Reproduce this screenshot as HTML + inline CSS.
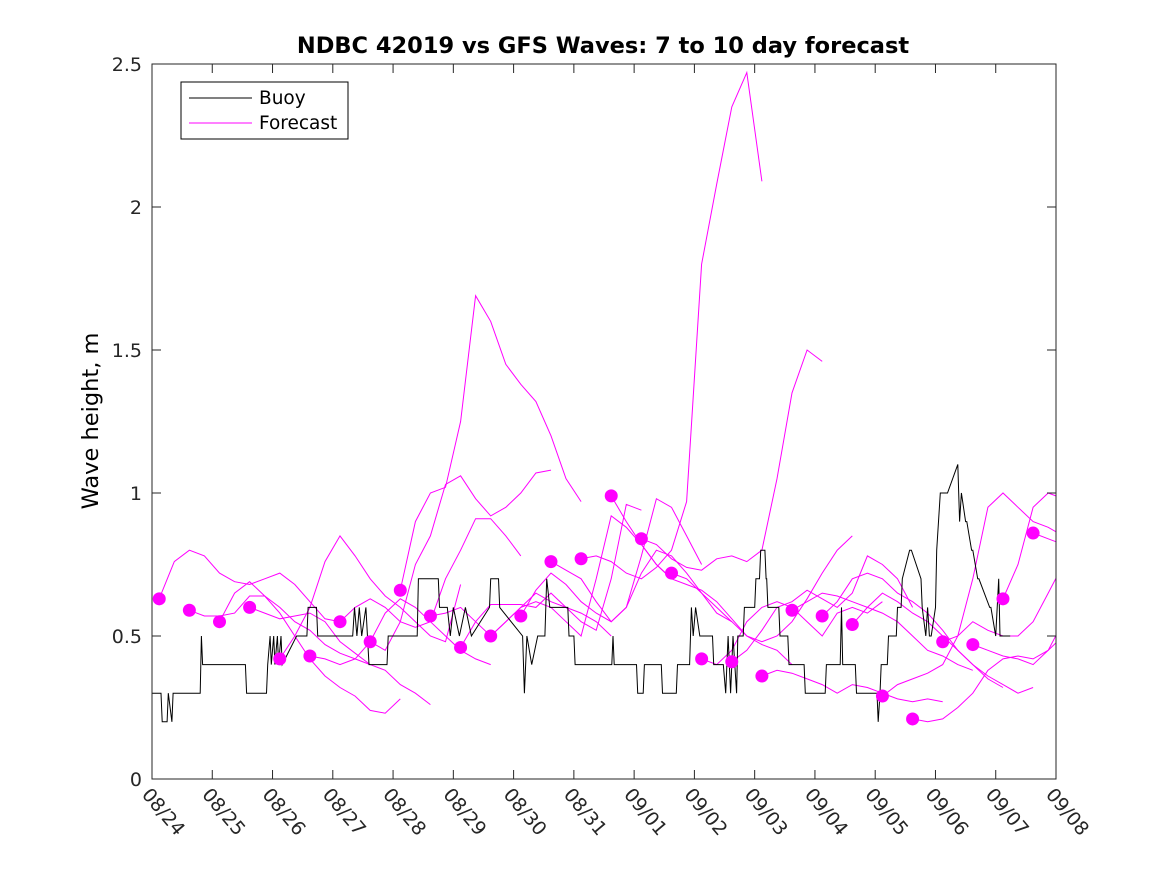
<!DOCTYPE html>
<html><head><meta charset="utf-8"><style>
body{margin:0;background:#fff;}
svg{display:block;font-family:"DejaVu Sans","Liberation Sans",sans-serif;}
</style></head><body>
<svg id="chart" width="1167" height="875" viewBox="0 0 1167 875" xmlns="http://www.w3.org/2000/svg">
<rect width="1167" height="875" fill="#fff"/>
<text x="603" y="53" text-anchor="middle" font-size="22.5" font-weight="bold">NDBC 42019 vs GFS Waves: 7 to 10 day forecast</text>
<text transform="translate(98,421) rotate(-90)" text-anchor="middle" font-size="22.5">Wave height, m</text>
<defs><clipPath id="plotclip"><rect x="152" y="64" width="904" height="715"/></clipPath></defs>
<g id="marks" clip-path="url(#plotclip)"></g>
<g id="axes"></g>
<g>
<rect x="181" y="82" width="167" height="57" fill="#fff" stroke="#000" stroke-width="1"/>
<line x1="189" y1="98" x2="252" y2="98" stroke="#000"/>
<text x="259" y="104" font-size="18.5">Buoy</text>
<line x1="189" y1="123" x2="252" y2="123" stroke="#f0f"/>
<text x="259" y="129" font-size="18.5">Forecast</text>
</g>
</svg>
<script>
const xTickLabels=["08/24","08/25","08/26","08/27","08/28","08/29","08/30","08/31","09/01","09/02","09/03","09/04","09/05","09/06","09/07","09/08"];
const yTicks=[0,0.5,1,1.5,2,2.5];
const yTickLabels=["0","0.5","1","1.5","2","2.5"];
const buoyDays=[0,0.15,0.17,0.25,0.27,0.33,0.35,0.42,0.44,0.8,0.82,0.84,1.55,1.57,1.6,1.62,1.9,1.92,1.96,1.98,2.02,2.04,2.08,2.1,2.14,2.16,2.4,2.57,2.59,2.73,2.75,3.33,3.36,3.4,3.44,3.48,3.55,3.6,3.9,3.92,4.4,4.42,4.75,4.77,4.9,4.95,5.0,5.1,5.2,5.3,5.6,5.62,5.75,5.77,6.15,6.18,6.22,6.3,6.4,6.52,6.55,6.6,6.62,6.9,6.92,7.0,7.02,7.63,7.65,7.67,8.04,8.06,8.15,8.17,8.45,8.47,8.7,8.72,8.92,8.95,8.98,9.02,9.09,9.11,9.3,9.32,9.48,9.52,9.56,9.6,9.64,9.7,9.72,9.81,9.83,10.0,10.02,10.08,10.1,10.17,10.19,10.2,10.22,10.4,10.42,10.55,10.57,10.82,10.84,11.17,11.19,11.42,11.44,11.46,11.67,11.69,12.03,12.05,12.08,12.1,12.2,12.22,12.35,12.37,12.43,12.45,12.57,12.6,12.76,12.78,12.84,12.87,12.9,12.93,13.0,13.02,13.08,13.2,13.37,13.4,13.43,13.5,13.52,13.6,13.62,13.7,13.72,13.9,13.92,14.0,14.05,14.07,14.24];
const buoyVals=[0.3,0.3,0.2,0.2,0.3,0.2,0.3,0.3,0.3,0.3,0.5,0.4,0.4,0.3,0.3,0.3,0.3,0.4,0.5,0.4,0.5,0.4,0.5,0.4,0.5,0.4,0.5,0.5,0.6,0.6,0.5,0.5,0.6,0.5,0.6,0.5,0.6,0.4,0.4,0.5,0.5,0.7,0.7,0.6,0.6,0.5,0.6,0.5,0.6,0.5,0.6,0.7,0.7,0.6,0.5,0.3,0.5,0.4,0.5,0.5,0.7,0.6,0.6,0.6,0.5,0.5,0.4,0.4,0.5,0.4,0.4,0.3,0.3,0.4,0.4,0.3,0.3,0.4,0.4,0.6,0.5,0.6,0.5,0.5,0.5,0.4,0.4,0.3,0.5,0.3,0.5,0.3,0.5,0.5,0.6,0.6,0.7,0.7,0.8,0.8,0.7,0.7,0.6,0.6,0.5,0.5,0.4,0.4,0.3,0.3,0.4,0.4,0.6,0.4,0.4,0.3,0.3,0.2,0.3,0.4,0.4,0.5,0.5,0.6,0.6,0.7,0.8,0.8,0.7,0.6,0.5,0.6,0.5,0.5,0.6,0.8,1.0,1.0,1.1,0.9,1.0,0.9,0.9,0.8,0.8,0.7,0.7,0.6,0.6,0.5,0.7,0.5,0.5];
const fcStartDays=[0.12,0.62,1.12,1.62,2.12,2.62,3.12,3.62,4.12,4.62,5.12,5.62,6.12,6.62,7.12,7.62,8.12,8.62,9.12,9.62,10.12,10.62,11.12,11.62,12.12,12.62,13.12,13.62,14.12,14.62];
const fcStep=0.25;
const fc0=[0.63,0.76,0.80,0.78,0.72,0.69,0.68,0.70,0.72,0.68,0.62,0.56,0.55];
const fc1=[0.59,0.57,0.57,0.58,0.64,0.64,0.60,0.55,0.52,0.47,0.44,0.42,0.40];
const fc2=[0.55,0.65,0.69,0.64,0.58,0.50,0.42,0.36,0.32,0.29,0.24,0.23,0.28];
const fc3=[0.60,0.58,0.56,0.57,0.58,0.55,0.48,0.44,0.40,0.38,0.33,0.30,0.26];
const fc4=[0.42,0.50,0.60,0.76,0.85,0.78,0.70,0.64,0.60,0.55,0.50,0.48,0.68];
const fc5=[0.43,0.42,0.40,0.42,0.48,0.58,0.63,0.60,0.55,0.50,0.45,0.42,0.40];
const fc6=[0.55,0.60,0.63,0.60,0.55,0.53,0.55,0.70,0.80,0.91,0.91,0.85,0.78];
const fc7=[0.48,0.45,0.55,0.75,0.85,1.03,1.06,0.98,0.92,0.95,1.00,1.07,1.08];
const fc8=[0.66,0.90,1.00,1.02,1.25,1.69,1.60,1.45,1.38,1.32,1.20,1.05,0.97];
const fc9=[0.57,0.58,0.60,0.55,0.50,0.55,0.60,0.65,0.62,0.60,0.58,0.55,0.50];
const fc10=[0.46,0.55,0.61,0.61,0.61,0.60,0.65,0.60,0.55,0.52,0.70,0.96,0.94];
const fc11=[0.50,0.55,0.60,0.62,0.60,0.55,0.50,0.70,0.92,0.88,0.82,0.75,0.70];
const fc12=[0.57,0.66,0.72,0.68,0.62,0.58,0.55,0.60,0.78,0.98,0.95,0.85,0.75];
const fc13=[0.76,0.73,0.70,0.62,0.55,0.60,0.72,0.80,0.78,0.72,0.65,0.60,0.55];
const fc14=[0.77,0.78,0.76,0.72,0.70,0.74,0.80,0.97,1.80,2.08,2.35,2.47,2.09];
const fc15=[0.99,0.90,0.82,0.75,0.70,0.68,0.66,0.62,0.56,0.50,0.47,0.45,0.40];
const fc16=[0.84,0.82,0.77,0.74,0.73,0.77,0.78,0.76,0.80,1.05,1.35,1.50,1.46];
const fc17=[0.72,0.70,0.65,0.58,0.55,0.50,0.48,0.50,0.55,0.63,0.72,0.80,0.85];
const fc18=[0.42,0.40,0.45,0.55,0.60,0.62,0.60,0.55,0.50,0.58,0.60,0.58,0.62];
const fc19=[0.41,0.45,0.52,0.60,0.62,0.66,0.63,0.60,0.65,0.78,0.75,0.70,0.60];
const fc20=[0.36,0.38,0.37,0.35,0.33,0.30,0.33,0.32,0.30,0.28,0.27,0.28,0.27];
const fc21=[0.59,0.62,0.65,0.64,0.62,0.60,0.58,0.55,0.50,0.45,0.43,0.40,0.38];
const fc22=[0.57,0.62,0.70,0.72,0.70,0.65,0.62,0.58,0.52,0.45,0.40,0.35,0.32];
const fc23=[0.54,0.60,0.65,0.62,0.58,0.55,0.50,0.45,0.40,0.36,0.33,0.30,0.32];
const fc24=[0.29,0.33,0.35,0.37,0.40,0.50,0.70,0.95,1.00,0.95,0.90,0.88,0.85];
const fc25=[0.21,0.20,0.21,0.25,0.30,0.38,0.42,0.43,0.42,0.45,0.50,0.55,0.57];
const fc26=[0.48,0.50,0.55,0.52,0.50,0.50,0.55,0.65,0.75,0.78,0.75,0.72,0.70];
const fc27=[0.47,0.45,0.43,0.42,0.40,0.45,0.55,0.70,0.80,0.78,0.82,0.85,0.85];
const fc28=[0.63,0.75,0.95,1.00,0.98,1.02,1.11,1.15,1.15,1.10,1.05,1.00,1.00];
const fc29=[0.86,0.84,0.82,0.85,0.97,1.00,1.00,0.98,0.95,0.95,0.92,0.90,0.90];
const forecasts=[fc0,fc1,fc2,fc3,fc4,fc5,fc6,fc7,fc8,fc9,fc10,fc11,fc12,fc13,fc14,fc15,fc16,fc17,fc18,fc19,fc20,fc21,fc22,fc23,fc24,fc25,fc26,fc27,fc28,fc29];

const X0=152,X1=1056,Y0=779,Y1=64,DMAX=15,VMAX=2.5;
function xs(d){return X0+(X1-X0)*d/DMAX;}
function ys(v){return Y0-(Y0-Y1)*v/VMAX;}
const NS="http://www.w3.org/2000/svg";
function mk(tag,attrs,parent){const e=document.createElementNS(NS,tag);for(const k in attrs)e.setAttribute(k,attrs[k]);parent.appendChild(e);return e;}
const marks=document.getElementById('marks');
const axes=document.getElementById('axes');

forecasts.forEach((arr,i)=>{
  const pts=arr.map((v,j)=>xs(fcStartDays[i]+j*fcStep).toFixed(1)+','+ys(v).toFixed(1)).join(' ');
  const pl=mk('polyline',{points:pts,fill:'none',stroke:'#f0f','stroke-width':1},marks);
  
  
});
const bpts=buoyDays.map((d,i)=>xs(d).toFixed(1)+','+ys(buoyVals[i]).toFixed(1)).join(' ');
const bl=mk('polyline',{points:bpts,fill:'none',stroke:'#000','stroke-width':1},marks);


forecasts.forEach((arr,i)=>{
  const c=mk('circle',{cx:xs(fcStartDays[i]),cy:ys(arr[0]),r:6.5,fill:'#f0f'},marks);
  
  
});

const frame=mk('rect',{x:X0,y:Y1,width:X1-X0,height:Y0-Y1,fill:'none',stroke:'#262626','stroke-width':1},axes);


xTickLabels.forEach((lab,i)=>{
  const x=xs(i);
  mk('line',{x1:x,y1:Y0,x2:x,y2:Y0-9,stroke:'#262626'},axes);
  mk('line',{x1:x,y1:Y1,x2:x,y2:Y1+9,stroke:'#262626'},axes);
  const t=mk('text',{transform:`translate(${x-11},${Y0+16}) rotate(50)`,'font-size':19,fill:'#262626'},axes);
  t.textContent=lab;
  
  
});
yTicks.forEach((v,i)=>{
  const y=ys(v);
  mk('line',{x1:X0,y1:y,x2:X0+9,y2:y,stroke:'#262626'},axes);
  mk('line',{x1:X1,y1:y,x2:X1-9,y2:y,stroke:'#262626'},axes);
  const t=mk('text',{x:X0-10,y:y+7,'text-anchor':'end','font-size':19,fill:'#262626'},axes);
  t.textContent=yTickLabels[i];
  
  
});
</script>
</body></html>
